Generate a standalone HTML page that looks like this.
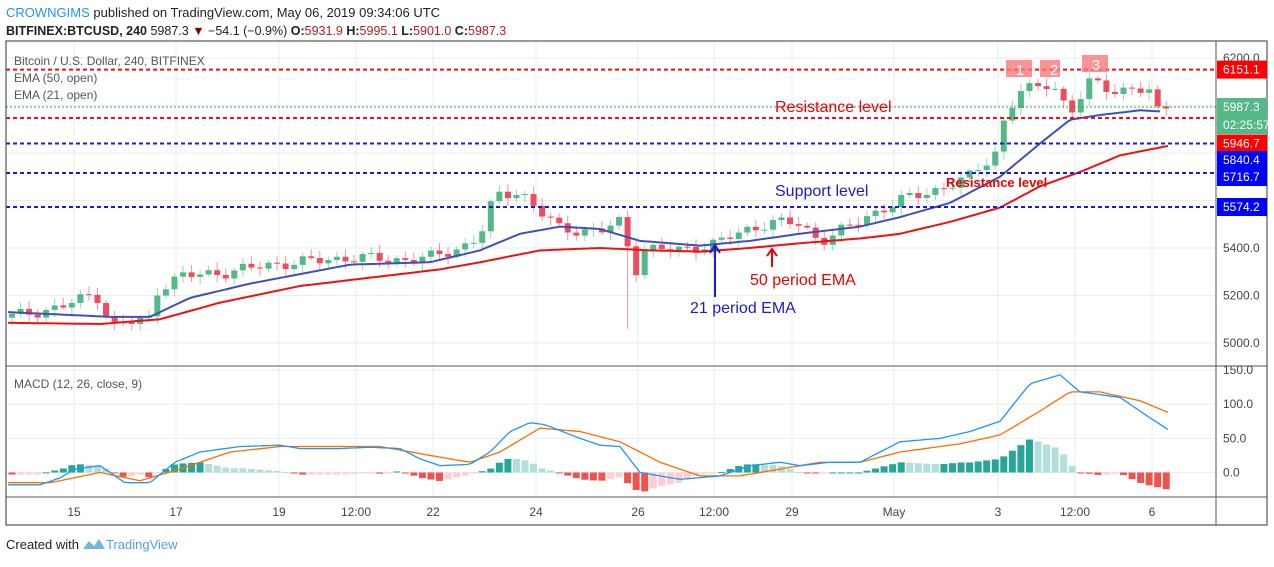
<!DOCTYPE html>
<html><head><meta charset="utf-8"><style>
body{margin:0;background:#fff;width:1274px;height:562px;overflow:hidden;font-family:"Liberation Sans",sans-serif}
svg text{font-family:"Liberation Sans",sans-serif}
</style></head><body>
<svg id="s" width="1274" height="562" xmlns="http://www.w3.org/2000/svg">
<rect width="1274" height="562" fill="#fff"/>
<text x="6" y="17" font-size="13"><tspan fill="#2196f3">CROWNGIMS</tspan><tspan fill="#222"> published on TradingView.com, May 06, 2019 09:34:06 UTC</tspan></text>
<text x="6" y="35" font-size="12.5" fill="#222"><tspan font-weight="bold">BITFINEX:BTCUSD, 240</tspan> 5987.3 <tspan fill="#8b0000">▼</tspan> −54.1 (−0.9%) <tspan font-weight="bold">O:</tspan><tspan fill="#b71c1c">5931.9</tspan> <tspan font-weight="bold">H:</tspan><tspan fill="#b71c1c">5995.1</tspan> <tspan font-weight="bold">L:</tspan><tspan fill="#b71c1c">5901.0</tspan> <tspan font-weight="bold">C:</tspan><tspan fill="#b71c1c">5987.3</tspan></text>
<g id="grid"></g>
<g id="main"></g>
<rect x="6" y="41" width="1261" height="484" fill="none" stroke="#555" stroke-width="1.2"/>
<line x1="1216" y1="41" x2="1216" y2="525" stroke="#555"/>
<line x1="6" y1="366" x2="1267" y2="366" stroke="#555"/>
<line x1="6" y1="497" x2="1267" y2="497" stroke="#555"/>
<text x="14" y="65" font-size="12" fill="#555">Bitcoin / U.S. Dollar, 240, BITFINEX</text>
<text x="14" y="82" font-size="12" fill="#555">EMA (50, open)</text>
<text x="14" y="99" font-size="12" fill="#555">EMA (21, open)</text>
<text x="14" y="388" font-size="12" fill="#555">MACD (12, 26, close, 9)</text>
<g id="labels"></g>
<text x="6" y="549" font-size="13" fill="#222">Created with</text>
<path d="M83 549 l6-8 5 5 5-7 6 10z" fill="#6fb6e4"/>
<text x="106" y="549" font-size="13" fill="#4aa3df">TradingView</text>
</svg>
<script>
var S=document.getElementById('s'),NS='http://www.w3.org/2000/svg';
function el(p,t,a,txt){var e=document.createElementNS(NS,t);for(var k in a)e.setAttribute(k,a[k]);if(txt!=null)e.textContent=txt;document.getElementById(p).appendChild(e);return e;}
function py(p){return 58+(6200-p)*0.2375}
function my(v){return 472.5-v*0.683}
function interp(pts,x){for(var i=1;i<pts.length;i++){if(x<=pts[i][0]){var a=pts[i-1],b=pts[i];return a[1]+(b[1]-a[1])*(x-a[0])/(b[0]-a[0]);}}return pts[pts.length-1][1];}
// grid
var xs=[74,176,279,356,433,536,638,714,792,894,998,1075,1152];
xs.forEach(function(x){el('grid','line',{x1:x,y1:41,x2:x,y2:497,stroke:'#e6edf3'})});
[6200,6000,5800,5600,5400,5200,5000].forEach(function(p){el('grid','line',{x1:6,y1:py(p),x2:1216,y2:py(p),stroke:'#e6edf3'})});
[150,100,50,0].forEach(function(v){el('grid','line',{x1:6,y1:my(v),x2:1216,y2:my(v),stroke:'#e6edf3'})});
var xl=['15','17','19','12:00','22','24','26','12:00','29','May','3','12:00','6'];
xs.forEach(function(x,i){el('labels','text',{x:x,y:516,'font-size':12,fill:'#444','text-anchor':'middle'},xl[i])});
// price path
var P=[[8,5110],[60,5150],[90,5200],[104,5190],[108,5060],[120,5080],[150,5100],[158,5230],[180,5280],[230,5300],[270,5330],[300,5340],[350,5360],[400,5350],[430,5360],[460,5400],[480,5450],[495,5620],[520,5640],[540,5550],[560,5480],[600,5470],[625,5520],[632,5220],[640,5400],[680,5390],[715,5420],[750,5480],[770,5510],[800,5500],[820,5430],[850,5490],[870,5540],[900,5600],[940,5650],[970,5700],[995,5800],[1005,5950],[1020,6060],[1045,6080],[1050,6120],[1070,5960],[1090,6100],[1110,6070],[1150,6060],[1160,5950],[1168,5987]];
var E21=[[8,5130],[60,5120],[110,5110],[150,5110],[190,5190],[250,5250],[300,5290],[350,5330],[430,5340],[480,5390],[520,5460],[560,5490],[600,5480],[640,5430],[700,5410],[750,5430],[800,5460],[860,5490],[900,5530],[950,5590],[1000,5700],[1040,5840],[1070,5940],[1100,5960],[1140,5980],[1160,5975]];
var E50=[[8,5085],[100,5080],[160,5100],[220,5170],[300,5240],[380,5280],[440,5310],[480,5340],[540,5390],[600,5400],[650,5390],[700,5385],[750,5400],[800,5420],[860,5440],[900,5460],[950,5510],[1000,5570],[1040,5660],[1080,5720],[1120,5790],[1168,5830]];
function poly(pts,f,g,c,w){var d='';for(var x=pts[0][0];x<=pts[pts.length-1][0];x+=4)d+=x+','+f(interp(pts,x)).toFixed(1)+' ';el(g,'polyline',{points:d,fill:'none',stroke:c,'stroke-width':w});}
// candles
var prev=interp(P,4);
for(var i=0;;i++){var x=12+i*8.55;if(x>1170)break;
 var c=interp(P,x)+Math.sin(i*1.7)*18+Math.cos(i*0.9)*10;var o=prev;
 if(x>1163)c=5987.3;
 var hi=Math.max(o,c)+8+Math.abs(Math.sin(i*2.3))*25,lo=Math.min(o,c)-8-Math.abs(Math.cos(i*1.3))*25;
 if(Math.abs(x-630)<4)lo=5060;
 var col=c>=o?'#53b987':'#eb4d5c';
 el('main','line',{x1:x,y1:py(hi),x2:x,y2:py(lo),stroke:col,'stroke-width':1,opacity:0.6});
 var y1=py(Math.max(o,c)),h=Math.max(1,py(Math.min(o,c))-y1);
 el('main','rect',{x:x-3,y:y1,width:6,height:h,fill:col});
 prev=c;}
poly(E50,py,'main','#f01010',2);
poly(E21,py,'main','#3f51b5',2);
// horizontal lines
function hl(y,c,d){el('main','line',{x1:6,y1:y,x2:1216,y2:y,stroke:c,'stroke-width':2,'stroke-dasharray':d})}
hl(69.6,'#f01010','4 3');hl(118,'#f01010','4 3');hl(143.5,'#1a1ad8','4 3');hl(173,'#1a1ad8','4 3');hl(207,'#1a1ad8','4 3');
el('main','line',{x1:6,y1:107,x2:1216,y2:107,stroke:'#26a65b','stroke-width':1,'stroke-dasharray':'2 2'});
// numbered boxes
[[1006,'1'],[1040,'2'],[1082,'3']].forEach(function(b){el('main','rect',{x:b[0],y:b[1]=='3'?55:60,width:b[1]=='2'?20:26,height:17,fill:'#f77',opacity:0.8});el('main','text',{x:b[0]+14,y:(b[1]=='3'?70:75),'font-size':15,fill:'#fff','text-anchor':'middle'},b[1]);});
// annotations
el('main','text',{x:775,y:112,'font-size':16,fill:'#e00'},'Resistance level');
el('main','text',{x:775,y:196,'font-size':16,fill:'#1a1ad8'},'Support level');
el('main','text',{x:946,y:187,'font-size':13,fill:'#e00','font-weight':'bold'},'Resistance level');
el('main','text',{x:750,y:285,'font-size':16,fill:'#e00'},'50 period EMA');
el('main','text',{x:690,y:313,'font-size':16,fill:'#1a1ad8'},'21 period EMA');
el('main','path',{d:'M772 267 V249 M767 256 L772 249 L777 256',stroke:'#e00','stroke-width':2,fill:'none'});
el('main','path',{d:'M715 297 V245 M710 253 L715 245 L720 253',stroke:'#1a1ad8','stroke-width':2,fill:'none'});
// MACD
var M=[[8,-18],[40,-18],[60,-8],[75,5],[100,10],[125,-15],[150,-15],[175,15],[200,30],[240,38],[280,40],[300,35],[340,35],[370,37],[400,35],[420,20],[440,10],[470,12],[490,30],[510,60],[530,73],[545,70],[580,50],[600,40],[620,38],[640,0],[680,-10],[720,-5],[750,10],[780,15],[800,10],[830,15],[860,15],[900,45],[940,50],[970,60],[1000,75],[1030,130],[1060,143],[1080,118],[1120,110],[1150,80],[1168,63]];
var Sg=[[8,-15],[50,-15],[100,0],[140,-12],[180,5],[230,30],[280,38],[330,38],[380,38],[430,25],[470,15],[500,30],[540,65],[580,60],[620,45],[660,15],[700,-5],[740,-5],[780,5],[820,15],[860,15],[900,30],[960,42],[1000,55],[1040,90],[1070,118],[1100,118],[1140,105],[1168,88]];
var ph=0;
for(var i=0;;i++){var x=12+i*8.55;if(x>1170)break;var h=interp(M,x)-interp(Sg,x);var col=h>=0?(h>=ph?'#26a69a':'#b2dfdb'):(h<ph?'#ef5350':'#ffcdd2');
 var y0=my(0),y1=my(h);el('main','rect',{x:x-3.5,y:Math.min(y0,y1),width:7,height:Math.max(1,Math.abs(y1-y0)),fill:col});ph=h;}
poly(Sg,my,'main','#ff6d00',1.3);poly(M,my,'main','#2196f3',1.3);
// right labels
[[6200,'6200.0'],[5400,'5400.0'],[5200,'5200.0'],[5000,'5000.0']].forEach(function(a){el('labels','text',{x:1223,y:py(a[0])+4,'font-size':12,fill:'#444'},a[1])});
[[150,'150.0'],[100,'100.0'],[50,'50.0'],[0,'0.0']].forEach(function(a){el('labels','text',{x:1223,y:my(a[0])+4,'font-size':12,fill:'#444'},a[1])});
function box(y,c,t){el('labels','rect',{x:1217,y:y-9,width:50,height:18,fill:c});el('labels','text',{x:1223,y:y+4,'font-size':12,fill:'#fff'},t)}
box(69.6,'#f00','6151.1');box(107,'#53b987','5987.3');box(125,'#53b987','02:25:57');box(143.5,'#f00','5946.7');box(160,'#00f','5840.4');box(177,'#00f','5716.7');box(207,'#00f','5574.2');
</script>
</body></html>
